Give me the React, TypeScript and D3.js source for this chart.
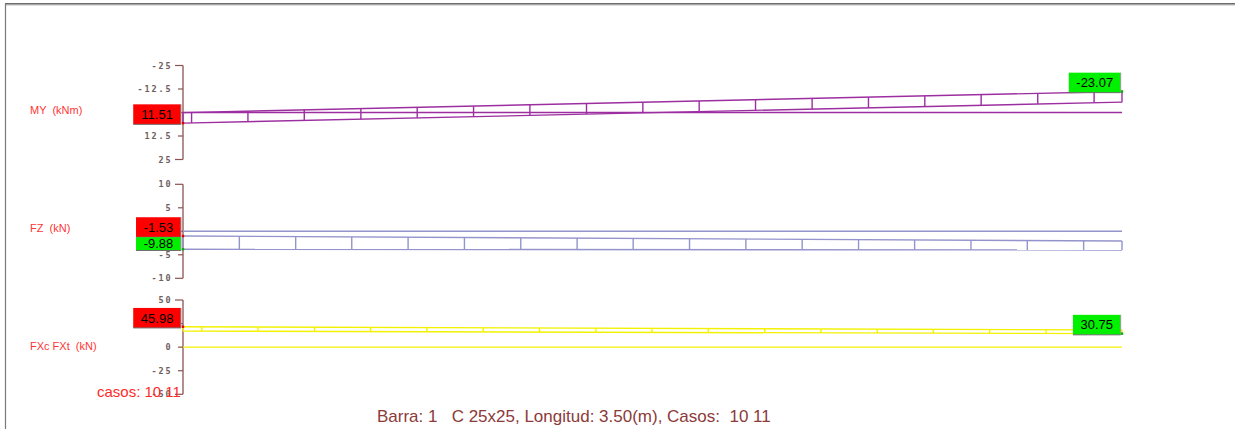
import React from "react";
import * as d3 from "d3";

const W = 1235;
const H = 429;

// bar length (m)
const barLength = 3.5;

// MY panel
const myTicks = [-25, -12.5, 0, 12.5, 25];
const myCaseA = [0, -23.07]; // values at start / end
const myCaseB = [11.51, -11.4];
const myStations = [0.032, 0.242, 0.452, 0.663, 0.873, 1.083, 1.293, 1.504, 1.714, 1.924, 2.134, 2.345, 2.555, 2.765, 2.975, 3.186, 3.396];

// FZ panel
const fzTicks = [-10, -5, 0, 5, 10];
const fzCaseA = [-1.53, -4.65];
const fzCaseB = [-9.88, -10.3];
const fzStations = [0.21, 0.42, 0.629, 0.839, 1.049, 1.259, 1.469, 1.678, 1.888, 2.098, 2.308, 2.518, 2.727, 2.937, 3.147, 3.357];

// FX panel
const fxTicks = [-50, -25, 0, 25, 50];
const fxCaseA = [45.98, 38.9];
const fxCaseB = [36.3, 30.75];
const fxStations = [0.07, 0.28, 0.49, 0.699, 0.909, 1.119, 1.329, 1.539, 1.748, 1.958, 2.168, 2.378, 2.588, 2.797, 3.007, 3.217];

const panelNames = ["MY  (kNm)", "FZ  (kN)", "FXc FXt  (kN)"];
const casesText = "casos: 10 11";
const titleText = "Barra: 1   C 25x25, Longitud: 3.50(m), Casos:  10 11";

const x = d3.scaleLinear().domain([0, barLength]).range([183, 1122]);

function textW(s: string) {
  let w = 0;
  for (const c of s) {
    if (c === ".") w += 3.47;
    else if (c === "-") w += 4.16;
    else w += 6.95;
  }
  return w;
}

type Label = { text: string; color: string; caseIdx: number; end: number; side: "left" | "right" };

type Panel = {
  name: string;
  ticks: number[];
  tickScale: d3.ScaleLinear<number, number>;
  diag: d3.ScaleLinear<number, number>;
  cases: number[][];
  stations: number[];
  stroke: string;
  labels: Label[];
  nameY: number;
};

const panels: Panel[] = [
  {
    name: panelNames[0],
    ticks: myTicks,
    tickScale: d3.scaleLinear().domain([-25, 25]).range([65.5, 159.5]),
    diag: d3.scaleLinear().domain([-25, 25]).range([112.6 - 22.9, 112.6 + 22.9]),
    cases: [myCaseA, myCaseB],
    stations: myStations,
    stroke: "#9c2ea0",
    labels: [
      { text: "11.51", color: "#ff0000", caseIdx: 1, end: 0, side: "left" },
      { text: "-23.07", color: "#00f000", caseIdx: 0, end: 1, side: "right" },
    ],
    nameY: 110,
  },
  {
    name: panelNames[1],
    ticks: fzTicks,
    tickScale: d3.scaleLinear().domain([-10, 10]).range([278.3, 184.3]),
    diag: d3.scaleLinear().domain([-10, 10]).range([233.6 + 15.9, 233.6 - 15.9]),
    cases: [fzCaseA, fzCaseB],
    stations: fzStations,
    stroke: "#9494cc",
    labels: [
      { text: "-1.53", color: "#ff0000", caseIdx: 0, end: 0, side: "left" },
      { text: "-9.88", color: "#00f000", caseIdx: 1, end: 0, side: "left" },
    ],
    nameY: 227.5,
  },
  {
    name: panelNames[2],
    ticks: fxTicks,
    tickScale: d3.scaleLinear().domain([-50, 50]).range([394.3, 300]),
    diag: d3.scaleLinear().domain([-50, 50]).range([347.6 + 22.7, 347.6 - 22.7]),
    cases: [fxCaseA, fxCaseB],
    stations: fxStations,
    stroke: "#f2f200",
    labels: [
      { text: "45.98", color: "#ff0000", caseIdx: 0, end: 0, side: "left" },
      { text: "30.75", color: "#00f000", caseIdx: 1, end: 1, side: "right" },
    ],
    nameY: 346,
  },
];

function valAt(c: number[], s: number) {
  return c[0] + (c[1] - c[0]) * (s / barLength);
}

function PanelView({ p }: { p: Panel }) {
  const ts = p.tickScale;
  const top = Math.min(...ts.range());
  const bot = Math.max(...ts.range());
  const zero = ts(0);
  const caseLines = p.cases.map((c) =>
    d3.line<number>().x((s) => x(s)).y((s) => p.diag(valAt(c, s)))([0, barLength])
  );
  const allStations = [0, ...p.stations, barLength];

  // label boxes, stacked on a side if they would overlap
  const boxes: { l: Label; px: number; py: number; x0: number; w: number; y0: number; y1: number }[] = [];
  const lastBottom: Record<string, number> = {};
  p.labels.forEach((l) => {
    const s = l.end === 0 ? 0 : barLength;
    const py = p.diag(p.cases[l.caseIdx][l.end]);
    const w = textW(l.text) + 16.5;
    const right = l.side === "left" ? 181 : 1120.7;
    let y1 = py + 1.2;
    let y0 = y1 - 20;
    const lb = lastBottom[l.side];
    if (lb !== undefined && y0 < lb) y0 = lb;
    lastBottom[l.side] = y1;
    boxes.push({ l, px: x(s), py, x0: right - w, w, y0, y1 });
  });

  return (
    <g>
      {/* axis */}
      <line x1={183} x2={183} y1={top} y2={bot} stroke="#8a5252" strokeWidth={1.3} />
      {p.ticks.map((t, i) => {
        const yy = ts(t);
        const isEnd = i === 0 || i === p.ticks.length - 1;
        return (
          <g key={t}>
            <line x1={isEnd ? 175 : 178} x2={183} y1={yy} y2={yy} stroke="#8a5252" strokeWidth={1.2} />
            <text
              x={172.5}
              y={yy + 3}
              textAnchor="end"
              fontFamily="DejaVu Sans Mono"
              fontSize={8.5}
              fontWeight="bold"
              letterSpacing={1.9}
              fill="#6e5e5e"
            >
              {String(t)}
            </text>
          </g>
        );
      })}
      {/* name */}
      <text x={30} y={p.nameY + 4} fontFamily="Liberation Sans, Arial" fontSize={11} fill="#ff3535" style={{ whiteSpace: "pre" }}>
        {p.name}
      </text>
      {/* zero baseline */}
      <line x1={x(0)} x2={x(barLength)} y1={zero} y2={zero} stroke={p.stroke} strokeWidth={1.4} />
      {/* case lines */}
      {caseLines.map((d, i) => (
        <path key={i} d={d || ""} fill="none" stroke={p.stroke} strokeWidth={1.4} />
      ))}
      {allStations.map((s, i) => (
        <line
          key={i}
          x1={x(s)}
          x2={x(s)}
          y1={p.diag(valAt(p.cases[0], s))}
          y2={p.diag(valAt(p.cases[1], s))}
          stroke={p.stroke}
          strokeWidth={1.4}
        />
      ))}
      {/* value labels */}
      {boxes.map((b, i) => (
        <g key={i}>
          <rect x={b.x0} y={b.y0} width={b.w} height={b.y1 - b.y0} fill={b.l.color} />
          <line x1={b.x0} x2={b.x0 + b.w} y1={b.y1} y2={b.y1} stroke="#707070" strokeWidth={1} />
          <line x1={b.x0 + b.w} x2={b.x0 + b.w} y1={b.y0} y2={b.y1} stroke="#9a9a9a" strokeWidth={1} />
          <text
            x={b.x0 + b.w / 2}
            y={(b.y0 + b.y1) / 2 + 4.6}
            textAnchor="middle"
            fontFamily="Liberation Sans, Arial"
            fontSize={13}
            fill="#000"
          >
            {b.l.text}
          </text>
          <rect
            x={b.px - 1.2}
            y={b.py - 1.2}
            width={2.4}
            height={2.4}
            fill={b.l.color === "#ff0000" ? "#e00000" : "#00b000"}
          />
        </g>
      ))}
    </g>
  );
}

export default function App() {
  return (
    <svg
      width={W}
      height={H}
      viewBox={`0 0 ${W} ${H}`}
      style={{ position: "absolute", left: 0, top: 0, background: "#fff" }}
    >
      <rect x={0} y={0} width={W} height={H} fill="#fff" />
      {/* frame */}
      <line x1={5} x2={W} y1={3.8} y2={3.8} stroke="#3c3c3c" strokeWidth={1.2} />
      <line x1={6} x2={W} y1={5} y2={5} stroke="#b0b0b0" strokeWidth={0.8} />
      <line x1={5.5} x2={5.5} y1={3.5} y2={H} stroke="#7a7a7a" strokeWidth={1.2} />
      {panels.map((p, i) => (
        <PanelView key={i} p={p} />
      ))}
      <text x={97} y={396.7} fontFamily="Liberation Sans, Arial" fontSize={15} fill="#ff2a2a">
        {casesText}
      </text>
      <text
        x={377}
        y={421.5}
        fontFamily="Liberation Sans, Arial"
        fontSize={17}
        fill="#8c3a3a"
        style={{ whiteSpace: "pre" }}
      >
        {titleText}
      </text>
    </svg>
  );
}
